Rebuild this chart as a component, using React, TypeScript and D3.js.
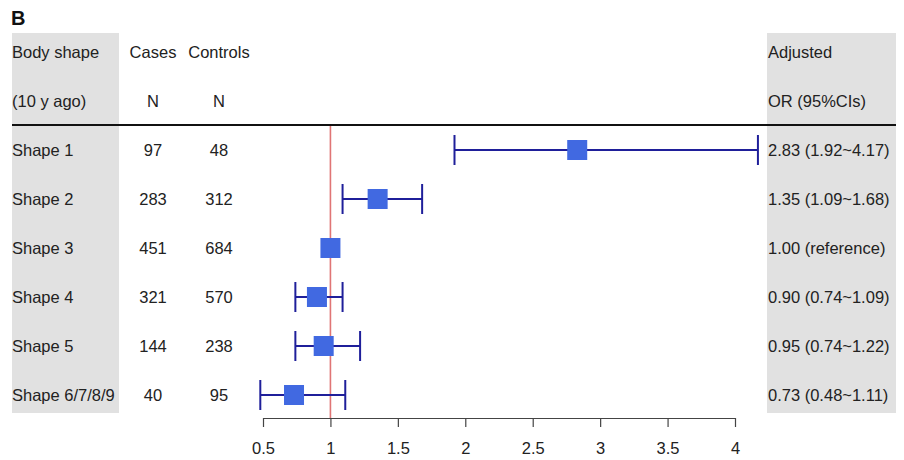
import * as d3 from "d3";
import { useEffect, useRef } from "react";

const shapes = ["Shape 1", "Shape 2", "Shape 3", "Shape 4", "Shape 5", "Shape 6/7/8/9"];
const cases = [97, 283, 451, 321, 144, 40];
const controls = [48, 312, 684, 570, 238, 95];
const orValues = [2.83, 1.35, 1.0, 0.9, 0.95, 0.73];
const lowerCI = [1.92, 1.09, 1.0, 0.74, 0.74, 0.48];
const upperCI = [4.17, 1.68, 1.0, 1.09, 1.22, 1.11];
const orLabels = [
  "2.83 (1.92~4.17)",
  "1.35 (1.09~1.68)",
  "1.00 (reference)",
  "0.90 (0.74~1.09)",
  "0.95 (0.74~1.22)",
  "0.73 (0.48~1.11)",
];
const xTicks = [0.5, 1, 1.5, 2, 2.5, 3, 3.5, 4];

export default function App() {
  const ref = useRef<SVGSVGElement>(null);

  useEffect(() => {
    if (!ref.current) return;
    const svg = d3.select(ref.current);
    svg.selectAll("*").remove();

    const font = "Liberation Sans, Arial, sans-serif";
    const fs = 16.5;
    const textColor = "#222";

    // row positions: 2 header rows + data rows
    const rowY = (i: number) => 52 + 49 * i;

    const x = d3.scaleLinear().domain([0.5, 4]).range([263, 735]);

    // gray panels
    svg.append("rect").attr("x", 12).attr("y", 33).attr("width", 107).attr("height", 380).attr("fill", "#e1e1e1");
    svg.append("rect").attr("x", 767).attr("y", 33).attr("width", 129).attr("height", 380).attr("fill", "#e1e1e1");

    // panel label
    svg.append("text")
      .attr("x", 11).attr("y", 25)
      .attr("font-family", font).attr("font-size", 20).attr("font-weight", "bold")
      .attr("fill", "#111").text("B");

    const addText = (tx: number, ty: number, s: string, anchor = "start") =>
      svg.append("text")
        .attr("x", tx).attr("y", ty).attr("dy", "0.35em")
        .attr("text-anchor", anchor)
        .attr("font-family", font).attr("font-size", fs)
        .attr("fill", textColor).text(s);

    // headers
    addText(12, rowY(0), "Body shape");
    addText(12, rowY(1), "(10 y ago)");
    addText(153, rowY(0), "Cases", "middle");
    addText(219, rowY(0), "Controls", "middle");
    addText(153, rowY(1), "N", "middle");
    addText(219, rowY(1), "N", "middle");
    addText(768, rowY(0), "Adjusted");
    addText(768, rowY(1), "OR (95%CIs)");

    // header rule
    svg.append("line")
      .attr("x1", 12).attr("x2", 896).attr("y1", 125).attr("y2", 125)
      .attr("stroke", "#111").attr("stroke-width", 2);

    // reference line
    svg.append("line")
      .attr("x1", x(1)).attr("x2", x(1)).attr("y1", 126).attr("y2", 418)
      .attr("stroke", "#e07575").attr("stroke-width", 1.6);

    shapes.forEach((s, i) => {
      const y = rowY(i + 2);
      addText(12, y, s);
      addText(153, y, String(cases[i]), "middle");
      addText(219, y, String(controls[i]), "middle");
      addText(768, y, orLabels[i]);

      if (lowerCI[i] !== upperCI[i]) {
        const g = svg.append("g").attr("stroke", "#1f1f9a").attr("stroke-width", 2);
        g.append("line").attr("x1", x(lowerCI[i])).attr("x2", x(upperCI[i])).attr("y1", y).attr("y2", y);
        g.append("line").attr("x1", x(lowerCI[i])).attr("x2", x(lowerCI[i])).attr("y1", y - 15).attr("y2", y + 15);
        g.append("line").attr("x1", x(upperCI[i])).attr("x2", x(upperCI[i])).attr("y1", y - 15).attr("y2", y + 15);
      }
      svg.append("rect")
        .attr("x", x(orValues[i]) - 10).attr("y", y - 10)
        .attr("width", 20).attr("height", 20)
        .attr("fill", "#4169e1");
    });

    // x axis
    const axis = svg.append("g")
      .attr("transform", "translate(0,418)")
      .call(d3.axisBottom(x).tickValues(xTicks).tickSize(9).tickSizeOuter(0).tickFormat((d) => String(d)));
    axis.select(".domain").attr("stroke", "#444").attr("stroke-width", 1.2);
    axis.selectAll(".tick line").attr("stroke", "#444").attr("stroke-width", 1.2);
    axis.selectAll("text")
      .attr("font-family", font).attr("font-size", fs)
      .attr("fill", textColor).attr("dy", "0.71em").attr("y", 24);
  }, []);

  return (
    <svg
      ref={ref}
      width={904}
      height={460}
      style={{ position: "fixed", left: 0, top: 0, background: "#fff", display: "block" }}
    />
  );
}
